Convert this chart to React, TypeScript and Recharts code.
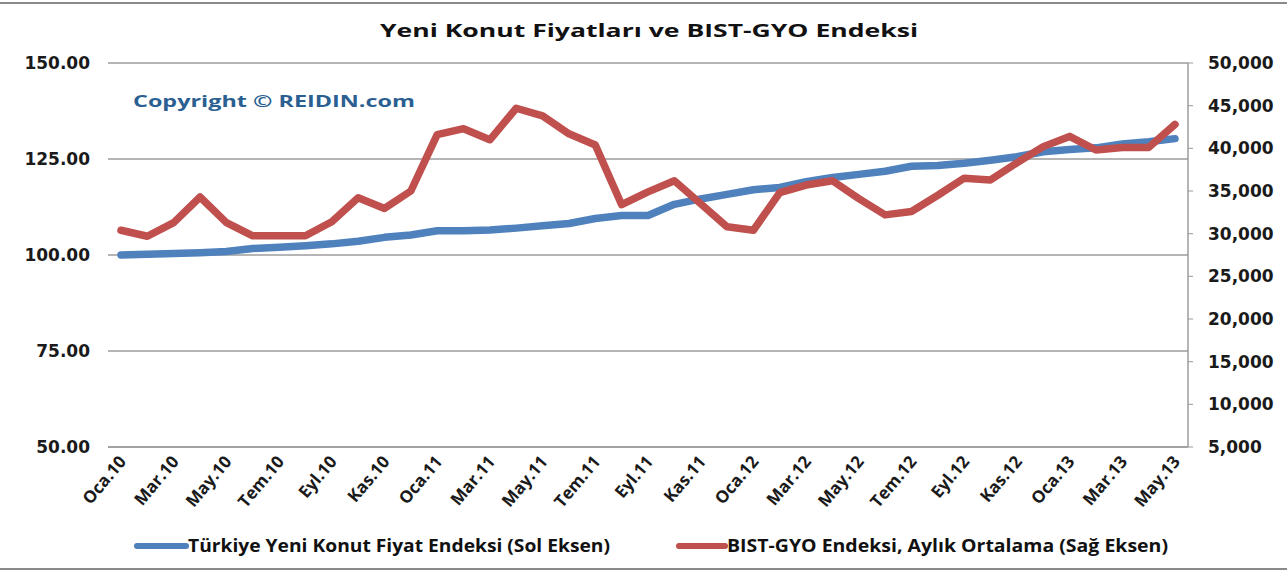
import React from 'react';
import { LineChart, Line, XAxis, YAxis, CartesianGrid } from 'recharts';

const months: string[] = [
  'Oca.10', 'Şub.10', 'Mar.10', 'Nis.10', 'May.10', 'Haz.10', 'Tem.10', 'Ağu.10', 'Eyl.10', 'Eki.10', 'Kas.10', 'Ara.10',
  'Oca.11', 'Şub.11', 'Mar.11', 'Nis.11', 'May.11', 'Haz.11', 'Tem.11', 'Ağu.11', 'Eyl.11', 'Eki.11', 'Kas.11', 'Ara.11',
  'Oca.12', 'Şub.12', 'Mar.12', 'Nis.12', 'May.12', 'Haz.12', 'Tem.12', 'Ağu.12', 'Eyl.12', 'Eki.12', 'Kas.12', 'Ara.12',
  'Oca.13', 'Şub.13', 'Mar.13', 'Nis.13', 'May.13',
];

const konutEndeksi: number[] = [
  100.0, 100.2, 100.4, 100.6, 100.9, 101.7, 102.0, 102.4, 102.9, 103.6, 104.6, 105.2,
  106.3, 106.3, 106.5, 107.0, 107.6, 108.2, 109.5, 110.3, 110.3, 113.2, 114.6, 115.8,
  117.0, 117.6, 119.1, 120.2, 121.0, 121.8, 123.1, 123.3, 123.9, 124.7, 125.6, 126.9,
  127.5, 127.9, 128.9, 129.5, 130.3,
];

const bistGyo: number[] = [
  30400, 29700, 31300, 34300, 31300, 29750, 29750, 29750, 31400, 34200, 32950, 35000,
  41600, 42300, 41000, 44700, 43800, 41700, 40400, 33400, 34900, 36200, 33500, 30800,
  30400, 34800, 35700, 36200, 34100, 32200, 32600, 34500, 36500, 36300, 38300, 40200,
  41400, 39800, 40100, 40100, 42800,
];

const leftTicks: number[] = [50, 75, 100, 125, 150];
const rightTicks: number[] = [5000, 10000, 15000, 20000, 25000, 30000, 35000, 40000, 45000, 50000];

const seriesNames: string[] = [
  'Türkiye Yeni Konut Fiyat Endeksi (Sol Eksen)',
  'BIST-GYO Endeksi, Aylık Ortalama (Sağ Eksen)',
];

const titleText = 'Yeni Konut Fiyatları ve BIST-GYO Endeksi';
const copyrightText = 'Copyright © REIDIN.com';

const data = months.map((m, i) => ({ month: m, konut: konutEndeksi[i], gyo: bistGyo[i] }));

const BLUE = '#4F81BD';
const RED = '#C0504D';
const GRID = '#9c9c9c';

const XTick = (props: any) => {
  const { x, y, payload } = props;
  return (
    <g transform={`translate(${x + 6},${y + 15})`}>
      <text
        x={0}
        y={0}
        textAnchor="end"
        transform="rotate(-50)"
        fontFamily="'Open Sans', sans-serif"
        fontWeight={700}
        fontSize={17}
        fill="#1a1a1a"
      >
        {payload.value}
      </text>
    </g>
  );
};

export default function App() {
  return (
    <div style={{ position: 'absolute', left: 0, top: 0, width: 1287, height: 572, background: '#fff' }}>
      <LineChart
        width={1287}
        height={572}
        data={data}
        margin={{ top: 63, right: 0, bottom: 0, left: 0 }}
      >
        <CartesianGrid yAxisId="left" vertical={false} stroke={GRID} strokeWidth={1.5} />
        <XAxis
          dataKey="month"
          interval={1}
          height={125}
          padding={{ left: 13, right: 13 }}
          tickLine={false}
          tickSize={0}
          tickMargin={0}
          axisLine={{ stroke: GRID, strokeWidth: 1.5 }}
          tick={<XTick />}
        />
        <YAxis
          yAxisId="left"
          orientation="left"
          width={108}
          domain={[50, 150]}
          ticks={leftTicks}
          interval={0}
          axisLine={false}
          tickLine={false}
          tickSize={0}
          tickMargin={18}
          tickFormatter={(v: number) => v.toFixed(2)}
          tick={{ fontFamily: "'DejaVu Sans', sans-serif", fontWeight: 700, fontSize: 17, fill: '#1a1a1a' }}
        />
        <YAxis
          yAxisId="right"
          orientation="right"
          width={99}
          domain={[5000, 50000]}
          ticks={rightTicks}
          interval={0}
          axisLine={{ stroke: GRID, strokeWidth: 1.5 }}
          tickLine={{ stroke: GRID }}
          tickSize={5}
          tickMargin={15}
          tickFormatter={(v: number) => v.toLocaleString('en-US')}
          tick={{ fontFamily: "'DejaVu Sans', sans-serif", fontWeight: 700, fontSize: 17, fill: '#1a1a1a' }}
        />
        <Line
          yAxisId="left"
          type="linear"
          dataKey="konut"
          name={seriesNames[0]}
          stroke={BLUE}
          strokeWidth={7.5}
          strokeLinejoin="round"
          strokeLinecap="round"
          dot={false}
          activeDot={false}
          isAnimationActive={false}
        />
        <Line
          yAxisId="right"
          type="linear"
          dataKey="gyo"
          name={seriesNames[1]}
          stroke={RED}
          strokeWidth={7.5}
          strokeLinejoin="round"
          strokeLinecap="round"
          dot={false}
          activeDot={false}
          isAnimationActive={false}
        />
      </LineChart>
      <svg
        width={1287}
        height={572}
        style={{ position: 'absolute', left: 0, top: 0, pointerEvents: 'none' }}
      >
        <line x1={0} y1={3} x2={1287} y2={3} stroke="#8a8a8a" strokeWidth={2} />
        <line x1={0} y1={569} x2={1287} y2={569} stroke="#8a8a8a" strokeWidth={2} />
        <text
          x={380}
          y={37}
          textLength={538}
          lengthAdjust="spacingAndGlyphs"
          fontFamily="'Open Sans', sans-serif"
          fontWeight={700}
          fontSize={17.5}
          fill="#111"
        >
          {titleText}
        </text>
        <text
          x={133}
          y={107}
          textLength={282}
          lengthAdjust="spacingAndGlyphs"
          fontFamily="'Open Sans', sans-serif"
          fontWeight={700}
          fontSize={16}
          fill="#2B5F91"
        >
          {copyrightText}
        </text>
        <line x1={137} y1={546} x2={186} y2={546} stroke={BLUE} strokeWidth={6} strokeLinecap="round" />
        <text
          x={188}
          y={552}
          textLength={422}
          lengthAdjust="spacingAndGlyphs"
          fontFamily="'Open Sans', sans-serif"
          fontWeight={700}
          fontSize={17}
          fill="#111"
        >
          {seriesNames[0]}
        </text>
        <line x1={679} y1={546} x2={725} y2={546} stroke={RED} strokeWidth={6} strokeLinecap="round" />
        <text
          x={727}
          y={552}
          textLength={441}
          lengthAdjust="spacingAndGlyphs"
          fontFamily="'Open Sans', sans-serif"
          fontWeight={700}
          fontSize={17}
          fill="#111"
        >
          {seriesNames[1]}
        </text>
      </svg>
    </div>
  );
}
